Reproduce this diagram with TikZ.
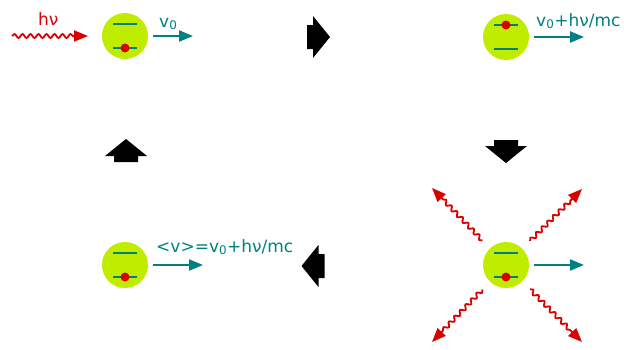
\documentclass[tikz,border=0pt]{standalone}
\usepackage{fontspec}
\setmainfont{DejaVu Sans}
\usetikzlibrary{arrows.meta,decorations.pathmorphing,calc}
\definecolor{atomfill}{RGB}{192,236,0}
\definecolor{tealc}{RGB}{0,128,128}
\definecolor{photonred}{RGB}{218,0,0}

\begin{document}
\begin{tikzpicture}[x=1pt, y=-1pt,
        atom/.style={circle, fill=atomfill, minimum size=46pt, inner sep=0pt},
        orbit/.style={draw=tealc, line width=2.2pt},
        electron/.style={circle, fill=photonred, minimum size=9pt, inner sep=0pt},
        kick/.style={-{Triangle[length=14pt,width=11pt]}, tealc, line width=2.2pt, shorten <=5pt},
        photon/.style={-{Triangle[length=14pt,width=11pt]}, photonred, line width=1.8pt,
            decorate, decoration={snake, amplitude=2pt, segment length=8pt, post length=14pt}},
        caption/.style={font=\fontsize{17}{20}\selectfont, inner sep=0pt, anchor=base west},
        stage/.pic={\fill (-11,-12) -- (-5,-12) -- (-5,-21) -- (12,0) -- (-5,21) -- (-5,12) -- (-11,12) -- cycle;}
    ]
    \useasboundingbox (0,0) rectangle (624,349);

    % atoms
    \node[atom] (a1) at (125,36) {};
    \node[atom] (a2) at (506,37) {};
    \node[atom] (a3) at (125,265) {};
    \node[atom] (a4) at (506,265) {};
    \foreach \a in {a1,a2,a3,a4} {
        \draw[orbit] ($(\a)+(-12,-12)$) -- ++(24,0);
        \draw[orbit] ($(\a)+(-12,12)$) -- ++(24,0);
    }
    \node[electron] (e1) at ($(a1)+(0,12)$) {};
    \node[electron] (e2) at ($(a2)+(0,-12)$) {};
    \node[electron] (e3) at ($(a3)+(0,12)$) {};
    \node[electron] (e4) at ($(a4)+(0,12)$) {};

    % incoming photon
    \coordinate (src) at (12,36);
    \draw[photon] (src) -- ($(a1)!37pt!(src)$);
    \node[caption, photonred] (hnu) at (38,25) {hν};

    % drift of the atoms
    \coordinate (v1) at (193,36);
    \coordinate (v2) at (584,37);
    \coordinate (v3) at (203,265);
    \coordinate (v4) at (584,265);
    \draw[kick] (a1) -- (v1);
    \draw[kick] (a2) -- (v2);
    \draw[kick] (a3) -- (v3);
    \draw[kick] (a4) -- (v4);
    \node[caption, tealc] (t1) at (159,27) {v\textsubscript{0}};
    \node[caption, tealc] (t2) at (536,26) {v\textsubscript{0}+hν/mc};
    \node[caption, tealc] (t3) at (156,252) {<v>=v\textsubscript{0}+hν/mc};

    % spontaneous emission
    \coordinate (r1) at (432,188);
    \coordinate (r2) at (582,189);
    \coordinate (r3) at (432,342);
    \coordinate (r4) at (582,342);
    \foreach \r in {r1,r2,r3,r4}
        \draw[photon] ($(a4)!34pt!(\r)$) -- (\r);

    % cycle arrows
    \pic at (318,37) {stage};
    \pic[rotate=-90] at (506,151) {stage};
    \pic[rotate=180] at (313.5,266) {stage};
    \pic[rotate=90] at (126,151) {stage};
\end{tikzpicture}
\end{document}
